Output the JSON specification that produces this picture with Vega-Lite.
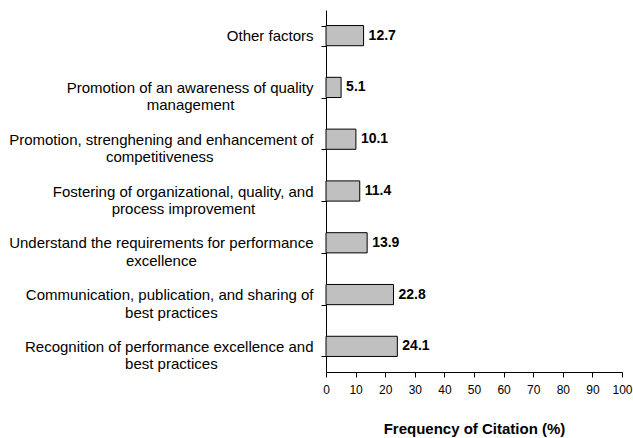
{
  "$schema": "https://vega.github.io/schema/vega-lite/v6.json",
  "autosize": {"type": "none"},
  "width": 296,
  "height": 362,
  "padding": {"left": 326, "top": 10, "right": 11, "bottom": 66},
  "background": "white",
  "config": {"view": {"stroke": null}, "font": "Liberation Sans"},
  "data": {
    "values": [
      {"factor": "Other factors", "pct": 12.7},
      {"factor": "Promotion of an awareness of quality management", "pct": 5.1},
      {"factor": "Promotion, strenghening and enhancement of competitiveness", "pct": 10.1},
      {"factor": "Fostering of organizational, quality, and process improvement", "pct": 11.4},
      {"factor": "Understand the requirements for performance excellence", "pct": 13.9},
      {"factor": "Communication, publication, and sharing of best practices", "pct": 22.8},
      {"factor": "Recognition of performance excellence and best practices", "pct": 24.1}
    ]
  },
  "encoding": {
    "y": {
      "field": "factor",
      "type": "nominal",
      "sort": null,
      "scale": {"paddingInner": 0.61, "paddingOuter": 0.3},
      "axis": {
        "title": null,
        "tickBand": "extent",
        "tickSize": 5,
        "tickColor": "#000",
        "domainColor": "#000",
        "labelPadding": 8,
        "labelAlign": "right",
        "labelBaseline": "middle",
        "labelFontSize": 15,
        "labelLineHeight": 17.5,
        "labelColor": "#000",
        "labelLimit": 0,
        "labelOverlap": false,
        "labelExpr": "datum.value == 'Other factors' ? 'Other factors' : datum.value == 'Promotion of an awareness of quality management' ? ['Promotion of an awareness of quality', pad('management', 29, '\u00a0') + '\u200b'] : datum.value == 'Promotion, strenghening and enhancement of competitiveness' ? ['Promotion, strenghening and enhancement of', pad('competitiveness', 39, '\u00a0') + '\u200b'] : datum.value == 'Fostering of organizational, quality, and process improvement' ? ['Fostering of organizational, quality, and', pad('process improvement', 33, '\u00a0') + '\u200b'] : datum.value == 'Understand the requirements for performance excellence' ? ['Understand the requirements for performance', pad('excellence', 38, '\u00a0') + '\u200b'] : datum.value == 'Communication, publication, and sharing of best practices' ? ['Communication, publication, and sharing of', pad('best practices', 37, '\u00a0') + '\u200b'] : datum.value == 'Recognition of performance excellence and best practices' ? ['Recognition of performance excellence and', pad('best practices', 37, '\u00a0') + '\u200b'] : ''"
      }
    },
    "x": {
      "field": "pct",
      "type": "quantitative",
      "scale": {"domain": [0, 100], "nice": false},
      "axis": {
        "title": "Frequency of Citation (%)",
        "titleFontSize": 15,
        "titleFontWeight": "bold",
        "titleColor": "#000",
        "titlePadding": 26,
        "values": [0, 10, 20, 30, 40, 50, 60, 70, 80, 90, 100],
        "grid": false,
        "tickSize": 5,
        "tickColor": "#000",
        "domainColor": "#000",
        "labelFontSize": 12,
        "labelColor": "#000",
        "labelPadding": 7,
        "labelFlush": false,
        "labelOverlap": false
      }
    }
  },
  "layer": [
    {
      "mark": {"type": "bar", "fill": "#c0c0c0", "stroke": "#000", "strokeWidth": 1}
    },
    {
      "mark": {"type": "text", "align": "left", "baseline": "middle", "dx": 5, "fontSize": 14, "fontWeight": "bold", "color": "#000"},
      "encoding": {
        "text": {"field": "pct", "type": "quantitative", "format": ".1f"}
      }
    }
  ]
}
